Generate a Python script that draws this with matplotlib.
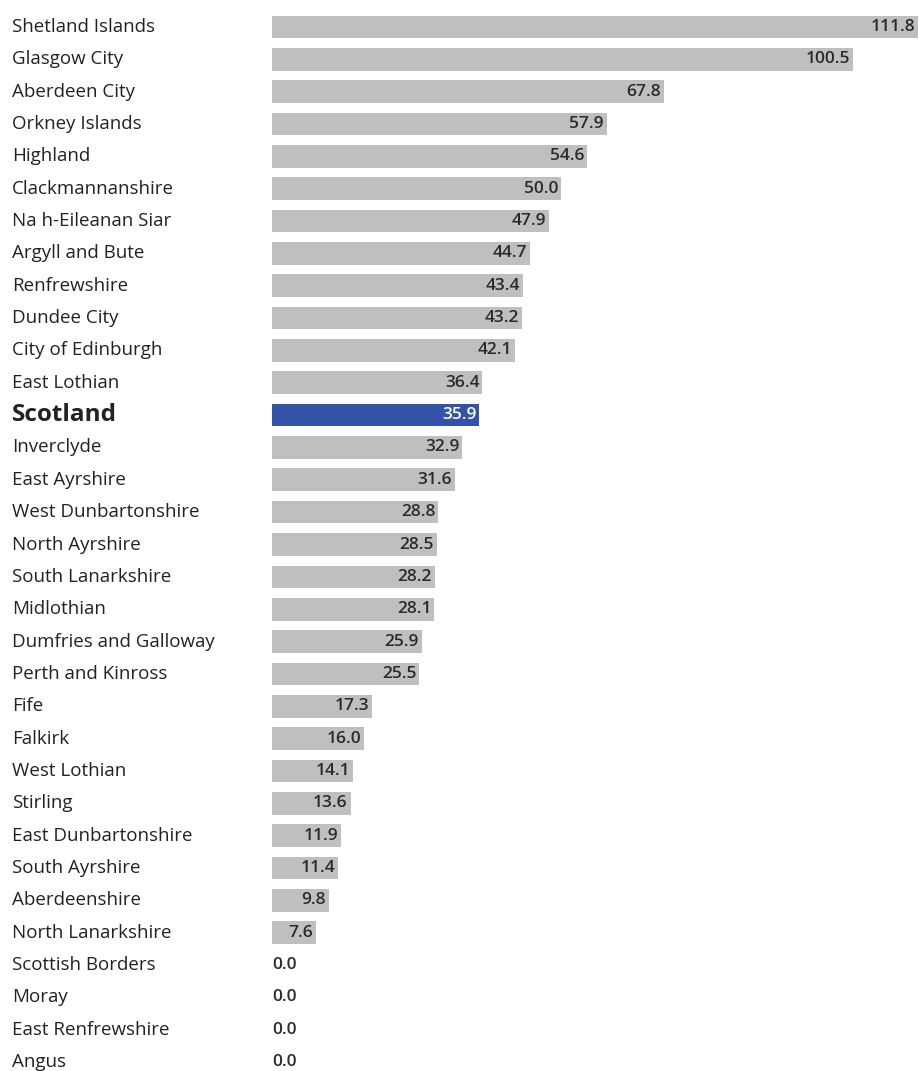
import matplotlib.pyplot as plt

plt.rcParams['font.family'] = ['Open Sans', 'Lato', 'DejaVu Sans']

areas = ['Shetland Islands', 'Glasgow City', 'Aberdeen City', 'Orkney Islands',
         'Highland', 'Clackmannanshire', 'Na h-Eileanan Siar', 'Argyll and Bute',
         'Renfrewshire', 'Dundee City', 'City of Edinburgh', 'East Lothian',
         'Scotland', 'Inverclyde', 'East Ayrshire', 'West Dunbartonshire',
         'North Ayrshire', 'South Lanarkshire', 'Midlothian',
         'Dumfries and Galloway', 'Perth and Kinross', 'Fife', 'Falkirk',
         'West Lothian', 'Stirling', 'East Dunbartonshire', 'South Ayrshire',
         'Aberdeenshire', 'North Lanarkshire', 'Scottish Borders', 'Moray',
         'East Renfrewshire', 'Angus']
values = [111.8, 100.5, 67.8, 57.9, 54.6, 50.0, 47.9, 44.7, 43.4, 43.2, 42.1, 36.4,
          35.9, 32.9, 31.6, 28.8, 28.5, 28.2, 28.1, 25.9, 25.5, 17.3, 16.0, 14.1,
          13.6, 11.9, 11.4, 9.8, 7.6, 0.0, 0.0, 0.0, 0.0]
highlight = 'Scotland'

W, H = 920, 1071
fig = plt.figure(figsize=(W / 100, H / 100), dpi=100)
ax = fig.add_axes([272 / W, 0, (918 - 272) / W, 1])

grey = '#bfbfbf'
blue = '#3253a8'
ypos = list(range(len(areas)))
colors = [blue if a == highlight else grey for a in areas]
ax.barh(ypos, values, height=0.70, color=colors)

ax.set_xlim(0, 111.8)
ax.set_ylim(32 + 9 / 32.34, -27 / 32.34)
ax.axis('off')

label_x = -260 / 5.778  # left edge of the category names, in data units

for y, name, v in zip(ypos, areas, values):
    if name == highlight:
        ax.text(label_x, y, name, fontsize=17.5, fontweight='bold', color='#222222',
                va='center', ha='left')
        ax.text(v - 0.5, y, f'{v:.1f}', fontsize=12.5, fontweight='semibold',
                color='white', va='center', ha='right')
        continue
    ax.text(label_x, y, name, fontsize=13.5, color='#222222', va='center', ha='left')
    if v > 0:
        ax.text(v - 0.5, y, f'{v:.1f}', fontsize=12.5, fontweight='semibold',
                color='#2b2b2b', va='center', ha='right')
    else:
        ax.text(0, y, f'{v:.1f}', fontsize=12.5, fontweight='semibold',
                color='#2b2b2b', va='center', ha='left')

fig.savefig('out.png', dpi=100)
